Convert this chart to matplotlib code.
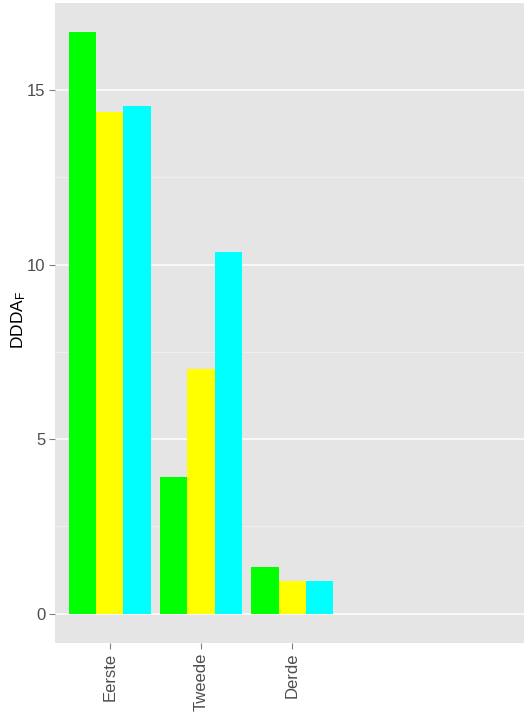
import matplotlib
matplotlib.use("Agg")
import matplotlib.pyplot as plt
import numpy as np

plt.rcParams['font.family'] = ['Liberation Sans', 'DejaVu Sans']
plt.rcParams['mathtext.fontset'] = 'custom'
plt.rcParams['mathtext.rm'] = 'Liberation Sans'
plt.rcParams['mathtext.it'] = 'Liberation Sans:italic'

categories = ["Eerste", "Tweede", "Derde"]
series_green = [16.65, 3.92, 1.33]
series_yellow = [14.38, 7.00, 0.95]
series_cyan = [14.54, 10.36, 0.95]
colors = ["#00FF00", "#FFFF00", "#00FFFF"]
yticks = [0, 5, 10, 15]

fig = plt.figure(figsize=(5.24, 7.16), dpi=100)
ax = fig.add_axes([55/524, 73.3/716, 469/524, 639.4/716])
ax.set_facecolor("#E5E5E5")

x = np.arange(1, len(categories) + 1)
w = 0.9 / 3
for i, (vals, c) in enumerate(zip([series_green, series_yellow, series_cyan], colors)):
    ax.bar(x + (i - 1) * w, vals, width=w, color=c, linewidth=0, zorder=3)

ax.set_xlim(0.4, 5.54)
ax.set_ylim(-0.83, 17.48)
ax.set_yticks(yticks)
ax.set_xticks(x)
ax.set_xticklabels(categories, rotation=90)
ax.grid(False)
for v in yticks:
    ax.axhline(v, color="white", lw=1.1, zorder=1)
for v in [2.5, 7.5, 12.5]:
    ax.axhline(v, color="#F2F2F2", lw=0.6, zorder=1)

for s in ax.spines.values():
    s.set_visible(False)
ax.tick_params(axis='both', which='major', colors="#7F7F7F", length=4, width=0.8,
               labelsize=12, labelcolor="#4D4D4D", pad=3)
fig.text(19/524, 1 - 320/716, r'DDDA$_{\mathrm{F}}$', fontsize=12.5, color="black",
         rotation=90, ha='center', va='center')

fig.savefig("out.png", dpi=100)
